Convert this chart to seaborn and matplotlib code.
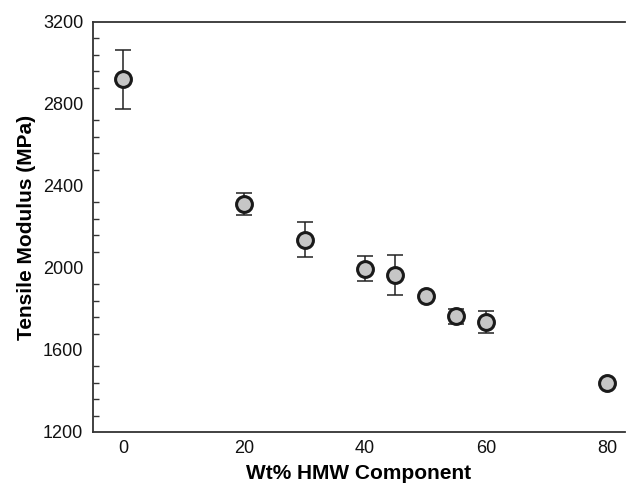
import matplotlib
matplotlib.use("Agg")
import matplotlib.pyplot as plt
import seaborn as sns
import pandas as pd
from matplotlib.ticker import MultipleLocator

wt_hmw = [0, 20, 30, 40, 45, 50, 55, 60, 80]
modulus = [2920, 2312, 2138, 1997, 1964, 1863, 1764, 1738, 1441]
modulus_err = [145, 52, 85, 60, 98, 0, 36, 53, 0]

df = pd.DataFrame({"wt": wt_hmw, "mod": modulus, "err": modulus_err})

sns.set_theme(style="white")
plt.rcParams["font.family"] = ["Liberation Sans", "DejaVu Sans"]

fig = plt.figure(figsize=(6.27, 4.88), dpi=100)
ax = fig.add_axes([93 / 627, 1 - 432 / 488, (625 - 93) / 627, (432 - 22) / 488])

ax.errorbar(df["wt"], df["mod"], yerr=df["err"], fmt="none", ecolor="#222222",
            elinewidth=1.1, capsize=6, capthick=1.1, zorder=2)
sns.scatterplot(data=df, x="wt", y="mod", ax=ax, s=130, color="#c6c6c6",
                edgecolor="#1a1a1a", linewidth=2.2, zorder=3)

ax.set_xlim(-5, 83)
ax.set_ylim(1200, 3200)
ax.set_xticks([0, 20, 40, 60, 80])
ax.set_yticks([1200, 1600, 2000, 2400, 2800, 3200])
ax.yaxis.set_minor_locator(MultipleLocator(80))

for s in ["left", "bottom", "top"]:
    ax.spines[s].set_visible(True)
    ax.spines[s].set_color("#333333")
    ax.spines[s].set_linewidth(1.3)
ax.spines["right"].set_visible(False)

ax.tick_params(axis="both", which="major", direction="in", length=7, width=1.1,
               color="#333333", labelsize=13, labelcolor="#111111", pad=7)
ax.tick_params(axis="x", which="major", pad=6)
ax.tick_params(axis="y", which="minor", direction="in", length=4, width=1.0,
               color="#333333", left=True)
ax.tick_params(axis="x", which="both", top=False)
ax.tick_params(axis="y", which="both", right=False)

ax.set_xlabel("Wt% HMW Component", fontsize=15, fontweight="bold", labelpad=5,
              color="#000000")
ax.set_ylabel("Tensile Modulus (MPa)", fontsize=15, fontweight="bold", labelpad=5,
              color="#000000")

fig.savefig("out.png", dpi=100)
